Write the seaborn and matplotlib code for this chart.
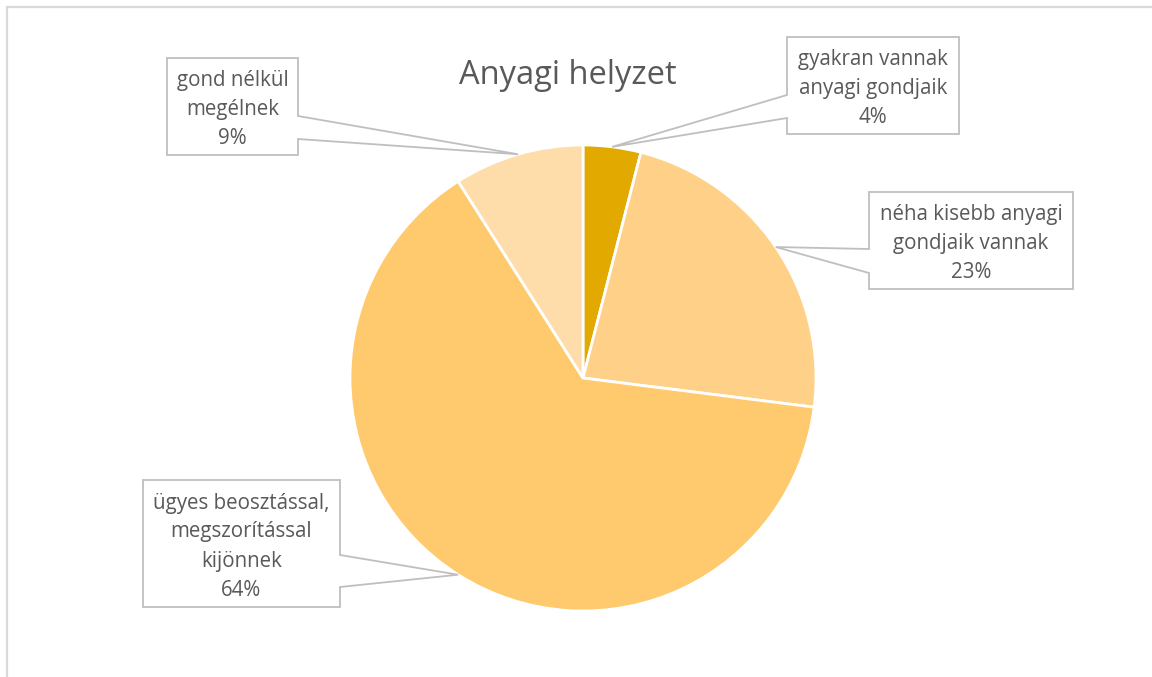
import matplotlib
matplotlib.use("Agg")
import matplotlib.pyplot as plt
from matplotlib.patches import Polygon
import numpy as np
import seaborn as sns

# Survey answers about the financial situation of households
categories = [
    "gyakran vannak\nanyagi gondjaik",
    "néha kisebb anyagi\ngondjaik vannak",
    "ügyes beosztással,\nmegszorítással\nkijönnek",
    "gond nélkül\nmegélnek",
]
shares = [4, 23, 64, 9]
colors = ["#E2AA00", "#FED088", "#FFCA6D", "#FFDDAA"]
title = "Anyagi helyzet"

sns.set_theme(style="white")
plt.rcParams["font.family"] = ["Open Sans", "DejaVu Sans"]

W, H = 1152, 677
fig = plt.figure(figsize=(W / 100, H / 100), dpi=100)
ax = fig.add_axes([0, 0, 1, 1])


def py(y):
    # pixel row (from top) to data y
    return H - y


center = (583, py(378))
radius = 233
wedges, _ = ax.pie(
    shares, colors=colors, startangle=90, counterclock=False,
    center=center, radius=radius, frame=True,
    wedgeprops=dict(edgecolor="white", linewidth=2.0),
)
ax.set_xlim(0, W)
ax.set_ylim(0, H)
ax.set_aspect("equal")
ax.axis("off")

# outer chart frame (clipped on the right and bottom)
ax.plot([7, 7, W + 5], [py(H + 5), py(7), py(7)], color="#D9D9D9", lw=1.6,
        solid_joinstyle="miter", clip_on=False)

ax.text(568, py(76), title, ha="center", va="center", fontsize=23.5,
        color="#595959")

# callout boxes: (left, top, right, bottom, side, base_top, base_bottom)
boxes = [
    (787, 37, 959, 134, "left", 95, 118),
    (869, 192, 1073, 289, "left", 249, 273),
    (143, 480, 340, 607, "right", 555, 587),
    (167, 58, 298, 155, "right", 116, 139),
]

for w, cat, val, (l, t, r, b, side, b1, b2) in zip(wedges, categories, shares, boxes):
    mid = np.deg2rad((w.theta1 + w.theta2) / 2)
    tip = (center[0] + radius * np.cos(mid), center[1] + radius * np.sin(mid))
    if side == "left":
        pts = [(l, py(t)), (r, py(t)), (r, py(b)), (l, py(b)),
               (l, py(b2)), tip, (l, py(b1))]
    else:
        pts = [(l, py(t)), (r, py(t)), (r, py(b1)), tip, (r, py(b2)),
               (r, py(b)), (l, py(b))]
    ax.add_patch(Polygon(pts, closed=True, facecolor="white",
                         edgecolor="#BFBFBF", lw=1.3, zorder=5))
    ax.text((l + r) / 2, py((t + b) / 2 + 3), f"{cat}\n{val}%", ha="center",
            va="center", fontsize=14.8, color="#595959", linespacing=1.5,
            zorder=6)

fig.savefig("out.png", dpi=100, facecolor="white")
